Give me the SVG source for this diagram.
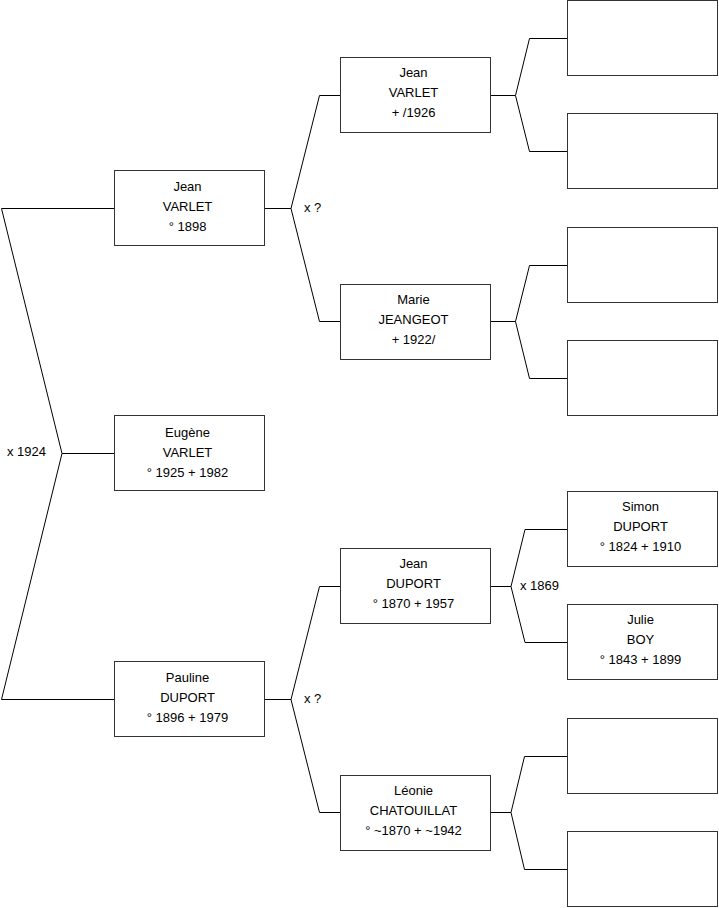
<svg xmlns="http://www.w3.org/2000/svg" width="719" height="908" viewBox="0 0 719 908">
<style>
rect.box{fill:#fff;stroke:#333;stroke-width:1}
.c path{fill:none;stroke:#000;stroke-width:1}
text{font-family:"Liberation Sans",Arial,sans-serif;font-size:13px;fill:#000}
.n text{text-anchor:middle}
</style>
<rect width="719" height="908" fill="#fff"/>
<g class="c" id="connectors">
<path d="M114,208.5H1.5L62,453.5L1.5,699.5H114M62,453.5H114"/>
<path d="M265,208.5H291L319.5,95.5H341M291,208.5L319.5,321.5H341"/>
<path d="M265,699.5H291L319.5,586.5H341M291,699.5L319.5,812.5H341"/>
<path d="M491,95.5H515.5L529.5,38.5H567M515.5,95.5L529.5,151.5H567"/>
<path d="M491,321.5H515.5L529.5,265.5H567M515.5,321.5L529.5,378.5H567"/>
<path d="M491,586.5H511L525,529.5H567M511,586.5L525,642.5H567"/>
<path d="M491,812.5H511L524.5,756.5H567M511,812.5L524.5,869.5H567"/>
<text x="7" y="456">x 1924</text>
<text x="304" y="212">x ?</text>
<text x="304" y="703">x ?</text>
<text x="520" y="590">x 1869</text>
</g>
<g class="n" id="n-jean-varlet-1898"><rect class="box" x="114.5" y="170.5" width="150" height="75"/><text x="187.5" y="191">Jean</text><text x="187.5" y="211">VARLET</text><text x="187.5" y="231">° 1898</text></g>
<g class="n" id="n-eugene"><rect class="box" x="114.5" y="415.5" width="150" height="75"/><text x="187.5" y="437">Eugène</text><text x="187.5" y="457">VARLET</text><text x="187.5" y="477">° 1925 + 1982</text></g>
<g class="n" id="n-pauline"><rect class="box" x="114.5" y="661.5" width="150" height="75"/><text x="187.5" y="682">Pauline</text><text x="187.5" y="702">DUPORT</text><text x="187.5" y="722">° 1896 + 1979</text></g>
<g class="n" id="n-jean-varlet-1926"><rect class="box" x="340.5" y="57.5" width="150" height="75"/><text x="413.5" y="77">Jean</text><text x="413.5" y="97">VARLET</text><text x="413.5" y="117">+ /1926</text></g>
<g class="n" id="n-marie"><rect class="box" x="340.5" y="284.5" width="150" height="75"/><text x="413.5" y="304">Marie</text><text x="413.5" y="324">JEANGEOT</text><text x="413.5" y="344">+ 1922/</text></g>
<g class="n" id="n-jean-duport"><rect class="box" x="340.5" y="548.5" width="150" height="75"/><text x="413.5" y="568">Jean</text><text x="413.5" y="588">DUPORT</text><text x="413.5" y="608">° 1870 + 1957</text></g>
<g class="n" id="n-leonie"><rect class="box" x="340.5" y="775.5" width="150" height="75"/><text x="413.5" y="795">Léonie</text><text x="413.5" y="815">CHATOUILLAT</text><text x="413.5" y="835">° ~1870 + ~1942</text></g>
<g class="n" id="n-g3-1"><rect class="box" x="567.5" y="0.5" width="150" height="75"/></g>
<g class="n" id="n-g3-2"><rect class="box" x="567.5" y="113.5" width="150" height="75"/></g>
<g class="n" id="n-g3-3"><rect class="box" x="567.5" y="227.5" width="150" height="75"/></g>
<g class="n" id="n-g3-4"><rect class="box" x="567.5" y="340.5" width="150" height="75"/></g>
<g class="n" id="n-simon"><rect class="box" x="567.5" y="491.5" width="150" height="75"/><text x="640.5" y="511">Simon</text><text x="640.5" y="531">DUPORT</text><text x="640.5" y="551">° 1824 + 1910</text></g>
<g class="n" id="n-julie"><rect class="box" x="567.5" y="604.5" width="150" height="75"/><text x="640.5" y="624">Julie</text><text x="640.5" y="644">BOY</text><text x="640.5" y="664">° 1843 + 1899</text></g>
<g class="n" id="n-g3-7"><rect class="box" x="567.5" y="718.5" width="150" height="75"/></g>
<g class="n" id="n-g3-8"><rect class="box" x="567.5" y="831.5" width="150" height="75"/></g>
</svg>
